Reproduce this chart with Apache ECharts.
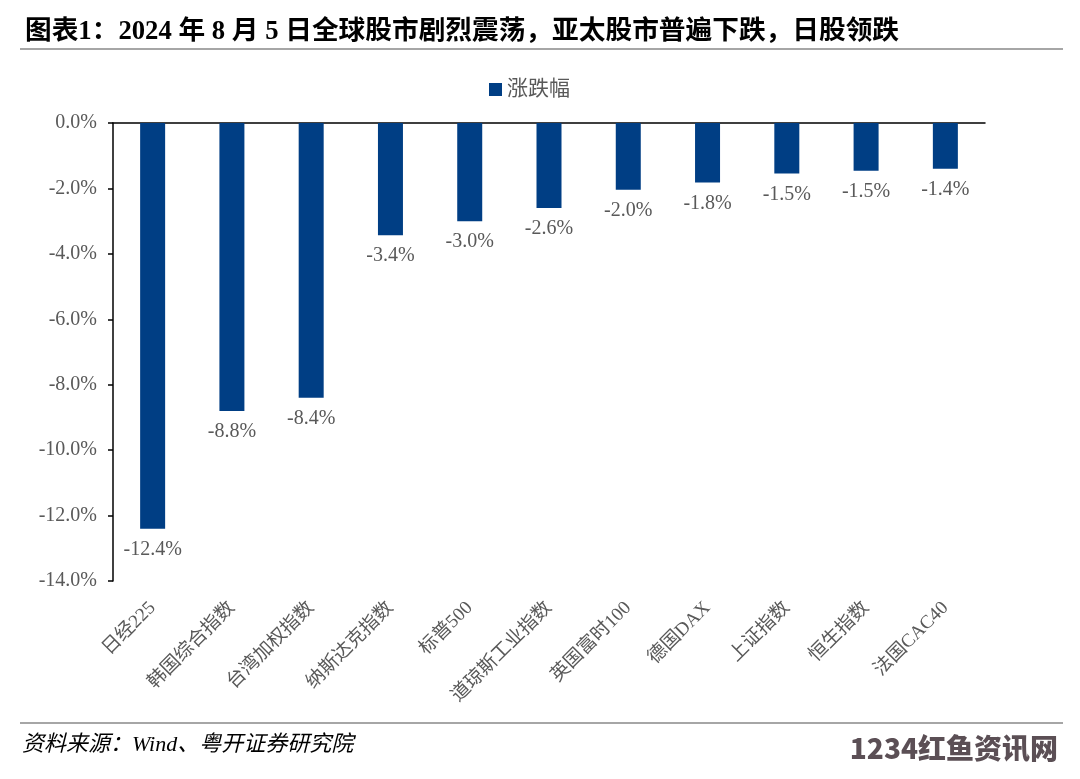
<!DOCTYPE html>
<html>
<head>
<meta charset="utf-8">
<style>html,body{margin:0;padding:0;background:#fff;}#c{width:1080px;height:779px;}</style>
<script src="https://cdn.jsdelivr.net/npm/echarts@6/dist/echarts.min.js"></script>
</head>
<body>
<div id="c"></div>
<script>
const categories = ['日经225','韩国综合指数','台湾加权指数','纳斯达克指数','标普500','道琼斯工业指数','英国富时100','德国DAX','上证指数','恒生指数','法国CAC40'];
const changes = [-12.4, -8.8, -8.4, -3.43, -3.0, -2.6, -2.04, -1.82, -1.54, -1.46, -1.4];
const yTicks = {min: -14, max: 0, interval: 2};
const seriesName = '涨跌幅';
const titleText = '图表1：2024 年 8 月 5 日全球股市剧烈震荡，亚太股市普遍下跌，日股领跌';
const sourceText = '资料来源：Wind、粤开证券研究院';

const serif = '"Liberation Serif", "Times New Roman", "Noto Sans CJK SC", serif';
const gray = '#595959';
const chart = echarts.init(document.getElementById('c'), null, {renderer: 'canvas'});
chart.setOption({
  animation: false,
  backgroundColor: '#fff',
  title: {
    text: titleText, left: 20, top: 14,
    textStyle: {fontFamily: serif, fontWeight: 'bold', fontSize: 26.7, color: '#000'}
  },
  legend: {
    data: [seriesName], left: 484, top: 74,
    itemWidth: 13, itemHeight: 13, itemGap: 6,
    icon: 'rect',
    textStyle: {fontFamily: serif, fontSize: 21, color: gray}
  },
  grid: {left: 113, right: 95, top: 123, bottom: 198, containLabel: false},
  xAxis: [{
    type: 'category', data: categories, position: 'bottom',
    axisLine: {show: false}, axisTick: {show: false},
    axisLabel: {rotate: 45, interval: 0, margin: 24, fontFamily: serif, fontSize: 19, color: gray}
  }, {
    type: 'category', data: categories, position: 'top',
    axisLine: {show: true, onZero: false, lineStyle: {color: '#000', width: 1.5}},
    axisTick: {show: false}, axisLabel: {show: false}
  }],
  yAxis: {
    type: 'value', min: yTicks.min, max: yTicks.max, interval: yTicks.interval,
    axisLine: {show: true, lineStyle: {color: '#000', width: 1.5}},
    axisTick: {show: true, length: 5, lineStyle: {color: '#000', width: 1.5}},
    splitLine: {show: false},
    axisLabel: {margin: 16, fontFamily: serif, fontSize: 20, color: gray,
      formatter: v => v.toFixed(1) + '%'}
  },
  series: [{
    name: seriesName, type: 'bar', xAxisIndex: 0, data: changes,
    barWidth: 25,
    itemStyle: {color: '#003E84'},
    label: {show: true, position: 'bottom', distance: 11, fontFamily: serif, fontSize: 20, color: gray,
      formatter: p => p.value.toFixed(1) + '%'}
  }],
  graphic: [
    {type: 'rect', shape: {x: 20, y: 48, width: 1043, height: 2}, style: {fill: '#a6a6a6'}},
    {type: 'rect', shape: {x: 20, y: 722, width: 1043, height: 2}, style: {fill: '#a6a6a6'}},
    {type: 'text', left: 22, top: 734, style: {text: sourceText, fontFamily: serif, fontStyle: 'italic', fontSize: 22, fill: '#000'}},
    {type: 'text', right: 22, top: 734, style: {text: '1234红鱼资讯网', fontFamily: '"Noto Sans CJK SC", sans-serif', fontWeight: 900, fontSize: 28, fill: '#5b4f55'}}
  ]
});
</script>
</body>
</html>
